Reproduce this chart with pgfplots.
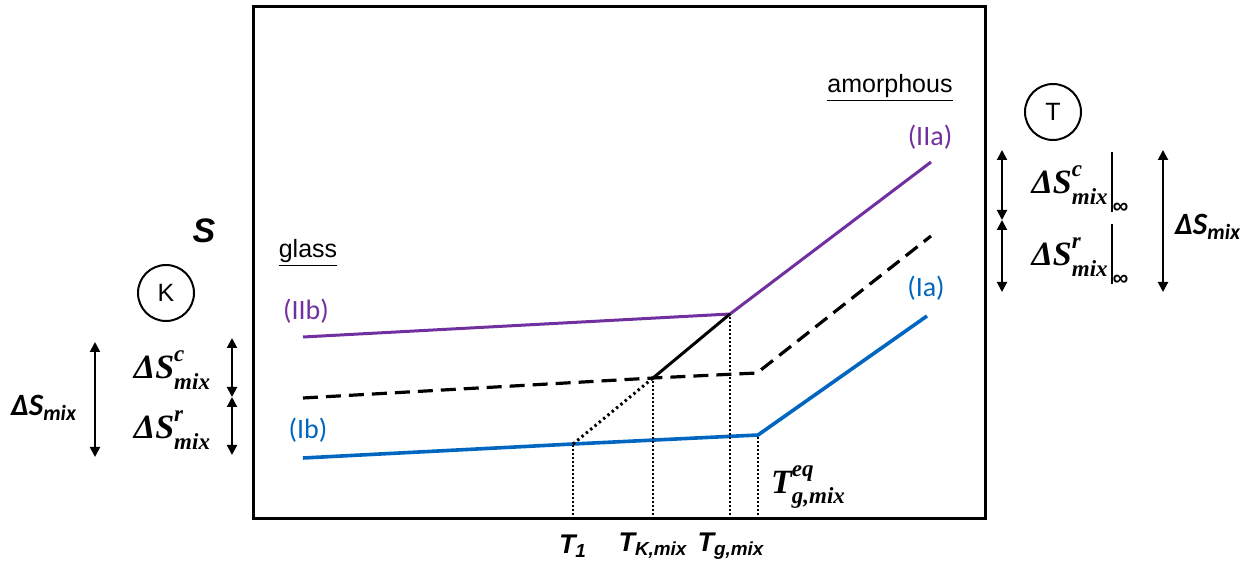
\documentclass[border=0pt]{standalone}
\usepackage{fontspec}
\setmainfont{Carlito}
\newfontfamily\arial{Liberation Sans}
\newfontfamily\serif{Liberation Serif}
\usepackage{pgfplots}
\pgfplotsset{compat=1.18}
\usetikzlibrary{arrows.meta}
\definecolor{cpurple}{RGB}{112,48,160}
\definecolor{cblue}{RGB}{0,102,192}
\newcommand{\dSmix}{{\bfseries\itshape ΔS}\textsubscript{\itshape\bfseries mix}}
\newcommand{\supsub}[2]{\raisebox{0.5em}{\rlap{\fontsize{11.5}{12}\selectfont #1}}\raisebox{-0.32em}{\fontsize{11.5}{12}\selectfont #2}}
\newcommand{\dSc}{{\serif\bfseries\itshape ΔS\supsub{c}{mix}}}
\newcommand{\dSr}{{\serif\bfseries\itshape ΔS\supsub{r}{mix}}}
\newcommand{\infbar}{\kern1.5pt\rule[-0.55em]{1pt}{1.75em}\raisebox{-0.6em}{\fontsize{11}{12}\selectfont\arial ∞}}
\newcommand{\dSci}{{\serif\bfseries\itshape ΔS\supsub{c}{mix}\infbar}}
\newcommand{\dSri}{{\serif\bfseries\itshape ΔS\supsub{r}{mix}\infbar}}
\newcommand{\Teqmix}{{\serif\bfseries\itshape T\supsub{eq}{g,mix}}}
\begin{document}
\begin{tikzpicture}[x=0.5pt, y=0.5pt]
\path (0,0) rectangle (1253,573);
\begin{axis}[
  x=0.5pt, y=0.5pt,
  anchor=south west, at={(253,54)},
  xmin=253, xmax=985, ymin=54, ymax=566,
  axis lines=box, ticks=none,
  axis line style={line width=1.5pt},
  clip=false,
]
\addplot[color=cpurple, line width=1.5pt] coordinates {(303,236) (730,259) (931,411)};
\addplot[color=black, line width=1.6pt, dash pattern=on 7.5pt off 4pt] coordinates {(303,175) (653,195) (757,200) (931,337)};
\addplot[color=cblue, line width=1.8pt] coordinates {(303,115) (573,129) (758,138) (927,257)};
\addplot[color=black, line width=1.5pt] coordinates {(653,195) (730,259)};
\addplot[color=black, line width=1.5pt, dash pattern=on 1.2pt off 1.6pt] coordinates {(573,129) (653,195)};
\addplot[color=black, line width=0.8pt, dash pattern=on 0.8pt off 1.2pt] coordinates {(573,54) (573,129)};
\addplot[color=black, line width=0.8pt, dash pattern=on 0.8pt off 1.2pt] coordinates {(653,54) (653,195)};
\addplot[color=black, line width=0.8pt, dash pattern=on 0.8pt off 1.2pt] coordinates {(730,54) (730,259)};
\addplot[color=black, line width=0.8pt, dash pattern=on 0.8pt off 1.2pt] coordinates {(758,54) (758,138)};
\end{axis}
\node[font=\arial\fontsize{12.5}{14}\selectfont] at (308,320) {\underline{glass}};
\node[font=\arial\fontsize{12.5}{14}\selectfont] at (890,485) {\underline{amorphous}};
\node[font=\fontsize{14}{16}\selectfont, text=cpurple] at (306,262) {(IIb)};
\node[font=\fontsize{14}{16}\selectfont, text=cpurple] at (930,436) {(IIa)};
\node[font=\fontsize{14}{16}\selectfont, text=cblue] at (308,143) {(Ib)};
\node[font=\fontsize{14}{16}\selectfont, text=cblue] at (926,285) {(Ia)};
\node[font=\fontsize{17}{19}\selectfont] at (808,86) {\Teqmix};
\node[font=\arial\bfseries\itshape\fontsize{13.5}{15}\selectfont] at (573,27) {T\textsubscript{1}};
\node[font=\arial\bfseries\itshape\fontsize{13.5}{15}\selectfont] at (653,27) {T\textsubscript{K,mix}};
\node[font=\arial\bfseries\itshape\fontsize{13.5}{15}\selectfont] at (731,27) {T\textsubscript{g,mix}};
\node[font=\arial\bfseries\itshape\fontsize{17}{19}\selectfont] at (204,342) {S};
\draw[line width=1pt] (166,280) circle [radius=28];
\node[font=\arial\fontsize{12.5}{14}\selectfont] at (166,280) {K};
\draw[line width=1pt] (1053,461) circle [radius=28];
\node[font=\arial\fontsize{12.5}{14}\selectfont] at (1053,461) {T};
\draw[line width=1pt, -{Triangle[length=5pt,width=5pt]}] (95,173) -- (95,231);
\draw[line width=1pt, -{Triangle[length=5pt,width=5pt]}] (95,173) -- (95,116);
\draw[line width=1pt, -{Triangle[length=5pt,width=5pt]}] (232,205) -- (232,235);
\draw[line width=1pt, -{Triangle[length=5pt,width=5pt]}] (232,205) -- (232,176);
\draw[line width=1pt, -{Triangle[length=5pt,width=5pt]}] (232,147) -- (232,176);
\draw[line width=1pt, -{Triangle[length=5pt,width=5pt]}] (232,147) -- (232,118);
\node[font=\fontsize{15.5}{17}\selectfont] at (44,165) {\dSmix};
\node[font=\fontsize{17}{19}\selectfont] at (172,203) {\dSc};
\node[font=\fontsize{17}{19}\selectfont] at (172,143) {\dSr};
\draw[line width=1pt, -{Triangle[length=5pt,width=5pt]}] (1002,388) -- (1002,423);
\draw[line width=1pt, -{Triangle[length=5pt,width=5pt]}] (1002,388) -- (1002,353);
\draw[line width=1pt, -{Triangle[length=5pt,width=5pt]}] (1002,317) -- (1002,353);
\draw[line width=1pt, -{Triangle[length=5pt,width=5pt]}] (1002,317) -- (1002,281);
\draw[line width=1pt, -{Triangle[length=5pt,width=5pt]}] (1163,352) -- (1163,423);
\draw[line width=1pt, -{Triangle[length=5pt,width=5pt]}] (1163,352) -- (1163,281);
\node[font=\fontsize{17}{19}\selectfont] at (1080,390) {\dSci};
\node[font=\fontsize{17}{19}\selectfont] at (1080,318) {\dSri};
\node[font=\fontsize{15.5}{17}\selectfont] at (1208,346) {\dSmix};
\end{tikzpicture}
\end{document}
